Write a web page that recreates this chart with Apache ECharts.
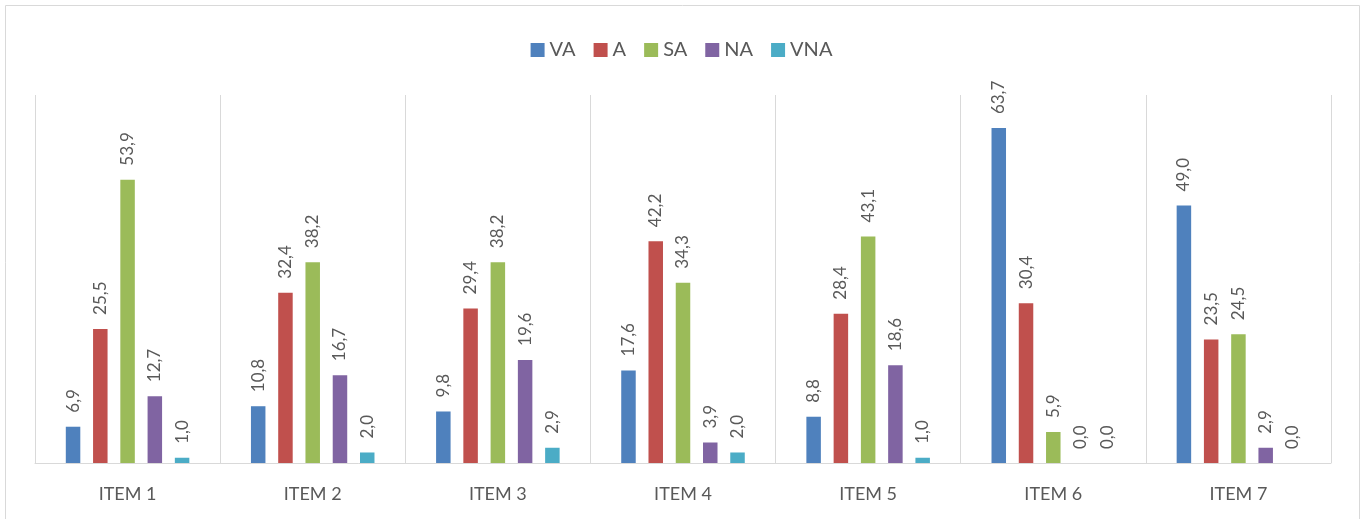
<!DOCTYPE html>
<html>
<head>
<meta charset="utf-8">
<script src="https://cdn.jsdelivr.net/npm/echarts@6/dist/echarts.min.js"></script>
<style>
html,body{margin:0;padding:0;background:#fff;}
#c{width:1363px;height:519px;}
</style>
</head>
<body>
<div id="c"></div>
<script>
const categories = ['ITEM 1','ITEM 2','ITEM 3','ITEM 4','ITEM 5','ITEM 6','ITEM 7'];
const seriesNames = ['VA','A','SA','NA','VNA'];
const VA  = [6.9, 10.8, 9.8, 17.6, 8.8, 63.7, 49.0];
const A   = [25.5, 32.4, 29.4, 42.2, 28.4, 30.4, 23.5];
const SA  = [53.9, 38.2, 38.2, 34.3, 43.1, 5.9, 24.5];
const NA  = [12.7, 16.7, 19.6, 3.9, 18.6, 0.0, 2.9];
const VNA = [1.0, 2.0, 2.9, 2.0, 1.0, 0.0, 0.0];
const values = [VA, A, SA, NA, VNA];
const colors = ['#4F81BD','#C0504D','#9BBB59','#8064A2','#4BACC6'];

const FONT = 'Lato, "Open Sans", sans-serif';
const chart = echarts.init(document.getElementById('c'), null, {renderer:'canvas'});
chart.setOption({
  animation:false,
  color: colors,
  textStyle:{fontFamily:FONT},
  graphic:[{type:'rect', shape:{x:5.5,y:5.5,width:1354,height:540}, style:{fill:'none',stroke:'#d9d9d9',lineWidth:1}, silent:true}],
  legend:{
    top:35, left:'center',
    itemWidth:14, itemHeight:14, itemGap:18,
    icon:'rect',
    textStyle:{color:'#595959', fontSize:20, fontFamily:FONT},
    data: seriesNames
  },
  grid:{left:35, right:32, top:95, bottom:56, containLabel:false},
  xAxis:{
    type:'category', data:categories,
    axisLine:{lineStyle:{color:'#d9d9d9'}},
    axisTick:{show:false},
    splitLine:{show:true, lineStyle:{color:'#d9d9d9', width:1}},
    axisLabel:{color:'#595959', fontSize:18, margin:22, fontFamily:FONT}
  },
  yAxis:{
    type:'value', min:0, max:70, interval:10,
    axisLine:{show:false}, axisTick:{show:false}, axisLabel:{show:false},
    splitLine:{show:false}
  },
  series: seriesNames.map((n,i)=>({
    name:n, type:'bar', data: values[i],
    barWidth:14.5, barGap:'88%',
    label:{
      show:true, position:'top', rotate:90, align:'left', verticalAlign:'middle', distance:14,
      color:'#595959', fontSize:17, fontFamily:FONT,
      formatter: p => p.value.toFixed(1).replace('.', ',')
    }
  }))
});
</script>
</body>
</html>
